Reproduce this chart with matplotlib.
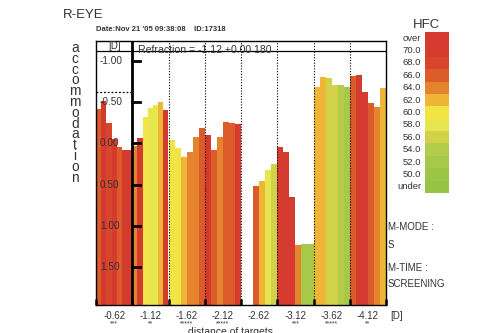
import matplotlib.pyplot as plt
import numpy as np
from matplotlib.patches import Rectangle
from matplotlib.transforms import blended_transform_factory

plt.rcParams['font.family'] = ['Liberation Sans', 'DejaVu Sans']

# target distances [D] and quality marks under each one
targets = ['-0.62', '-1.12', '-1.62', '-2.12', '-2.62', '-3.12', '-3.62', '-4.12']
stars = ['***', '**', '*****', '*****', '', '***', '*****', '**']

# accommodation readings [D] for each target (nan = no reading)
acc_062 = [-0.42, -0.51, -0.24, -0.05, 0.05, 0.08, 0.08]
acc_112 = [0.03, -0.07, -0.32, -0.43, -0.46, -0.50, -0.40]
acc_162 = [-0.04, 0.06, 0.16, 0.10, -0.08, -0.19]
acc_212 = [-0.10, 0.08, -0.08, -0.26, -0.24, -0.23]
acc_262 = [np.nan, np.nan, 0.52, 0.46, 0.32, 0.25]
acc_312 = [0.05, 0.10, 0.65, 1.23, 1.22, 1.22]
acc_362 = [-0.68, -0.80, -0.79, -0.71, -0.71, -0.68]
acc_412 = [-0.82, -0.83, -0.62, -0.49, -0.44, -0.67]

# high frequency component of each reading
hfc_062 = [66, 71, 67, 71, 66, 71, 71]
hfc_112 = [63, 70, 59, 57, 58, 61, 71]
hfc_162 = [59, 59, 61, 63, 63, 65]
hfc_212 = [71, 65, 63, 65, 66, 70]
hfc_262 = [np.nan, np.nan, 65, 61, 57, 55]
hfc_312 = [71, 71, 70, 63, 51, 51]
hfc_362 = [61, 61, 55, 55, 53, 51]
hfc_412 = [66, 71, 71, 66, 64, 61]

acc_all = [acc_062, acc_112, acc_162, acc_212, acc_262, acc_312, acc_362, acc_412]
hfc_all = [hfc_062, hfc_112, hfc_162, hfc_212, hfc_262, hfc_312, hfc_362, hfc_412]

refraction = -1.12
first_target = -0.62
y_ticks = [-1.0, -0.5, 0.0, 0.5, 1.0, 1.5]

hfc_labels = ['over', '70.0', '68.0', '66.0', '64.0', '62.0', '60.0',
              '58.0', '56.0', '54.0', '52.0', '50.0', 'under']
hfc_colors = ['#d53a2f', '#d63b2f', '#d8452d', '#dc5b2b', '#e5842f', '#efb536',
              '#f3e446', '#e8e64f', '#d2d24a', '#b4cc4a', '#a6c94a', '#9cc646',
              '#97c344']


def hfc_color(h):
    if h > 70:
        return hfc_colors[0]
    if h < 50:
        return hfc_colors[-1]
    return hfc_colors[1 + int((70 - h) // 2)]


W, H = 500, 333
fig = plt.figure(figsize=(W / 100, H / 100), dpi=100)
txt = '#333333'

ybot, ytop = 1.96, -1.24
ax = fig.add_axes([96 / W, 1 - 305 / H, 290 / W, 264 / H])
ax.set_xlim(0, 8)
ax.set_ylim(ybot, ytop)

for i, (vals, hfcs) in enumerate(zip(acc_all, hfc_all)):
    n = len(vals)
    for j, (v, h) in enumerate(zip(vals, hfcs)):
        if np.isnan(v):
            continue
        ax.bar(i + (j + 0.5) / n, v - ybot, bottom=ybot, width=1 / n,
               color=hfc_color(h), linewidth=0, zorder=1)

# group separators
ax.axvline(1, color='k', lw=2, zorder=3)
for x in range(2, 8):
    ax.axvline(x, color='k', ls=(0, (1, 1.5)), lw=0.8, zorder=3)
ax.axhline(refraction, color='k', lw=0.9, zorder=3)
ax.plot([0, 1], [first_target, first_target], color='k', ls=(0, (1.5, 1.5)),
        lw=0.9, zorder=3)

for yv in y_ticks:
    ax.plot([1, 1.22], [yv, yv], color='k', lw=2, zorder=4)
    ax.text(0.11, yv, f'{yv:.2f}', ha='left', va='center', fontsize=7.2,
            color=txt, zorder=5)

ax.text(0.5, -1.185, '[D]', ha='center', va='center', fontsize=7, color=txt)
ax.text(1.15, -1.13, 'Refraction = -1.12 +0.00 180', ha='left', va='center',
        fontsize=7.6, color=txt, zorder=5)

ax.set_yticks([])
ax.set_xticks(np.arange(9))
ax.set_xticklabels([])
ax.tick_params(axis='x', direction='in', length=4, width=1.8, color='k')
for s in ax.spines.values():
    s.set_linewidth(1)
    s.set_color('k')

tr = blended_transform_factory(ax.transData, ax.transAxes)
for i, (lab, st) in enumerate(zip(targets, stars)):
    ax.text(i + 0.5, -0.043, lab, transform=tr, ha='center', va='center',
            fontsize=7, color=txt)
    ax.text(i + 0.5, -0.072, st, transform=tr, ha='center', va='center',
            fontsize=5, color=txt)
ax.text(8.12, -0.043, '[D]', transform=tr, ha='left', va='center',
        fontsize=7, color=txt)
fig.text(230 / W, 1 - 335 / H, 'distance of targets', ha='center',
         va='baseline', fontsize=7.5, color=txt)

# vertical axis title, one letter per line
for k, ch in enumerate('accommodation'):
    fig.text(75 / W, 1 - (48 + k * 10.8) / H, ch, ha='center', va='center',
             fontsize=9.8, color=txt)

fig.text(63 / W, 1 - 15.5 / H, 'R-EYE', ha='left', va='center',
         fontsize=9.5, color=txt)
fig.text(96 / W, 1 - 29.5 / H, "Date:Nov 21 '05 09:38:08    ID:17318",
         ha='left', va='center', fontsize=5.5, fontweight='bold', color=txt)

# HFC colour key
cax = fig.add_axes([425 / W, 1 - 193 / H, 24 / W, 161 / H])
for k, c in enumerate(hfc_colors):
    cax.add_patch(Rectangle((0, k), 1, 1, color=c, linewidth=0))
cax.set_xlim(0, 1)
cax.set_ylim(len(hfc_colors), 0)
cax.axis('off')
step = 161 / len(hfc_colors)
for k, lab in enumerate(hfc_labels):
    fig.text(421 / W, 1 - (32 + (k + 0.5) * step) / H, lab, ha='right',
             va='center', fontsize=6.8, color=txt)
fig.text(426 / W, 1 - 25 / H, 'HFC', ha='center', va='center',
         fontsize=9.5, color=txt)

for label, yp in [('M-MODE :', 227), ('S', 245), ('M-TIME :', 268),
                  ('SCREENING', 284)]:
    fig.text(388 / W, 1 - yp / H, label, ha='left', va='center',
             fontsize=7, color=txt)

fig.savefig('out.png', dpi=100)
